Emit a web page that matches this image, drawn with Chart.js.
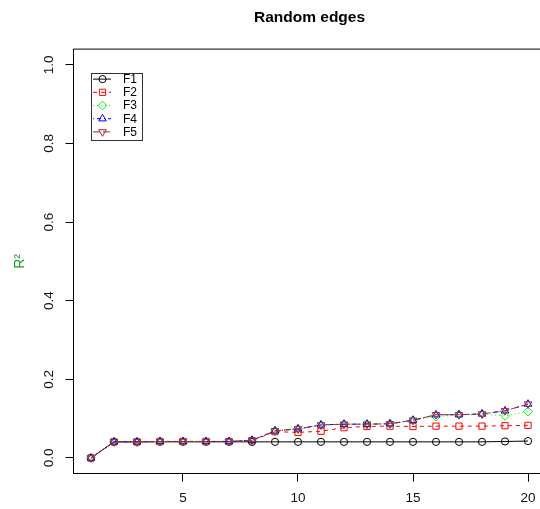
<!DOCTYPE html>
<html>
<head>
<meta charset="utf-8">
<script src="https://cdn.jsdelivr.net/npm/chart.js@4/dist/chart.umd.min.js"></script>
<style>
  html, body { margin: 0; padding: 0; background: #fff; overflow: hidden; }
  #wrap { position: absolute; left: 0; top: 0; width: 540px; height: 509px; overflow: hidden; }
  canvas { display: block; }
</style>
</head>
<body>
<div id="wrap"><canvas id="c" width="619" height="509"></canvas></div>
<script>
'use strict';

/* ── data ── */
const X_VALUES = [1,2,3,4,5,6,7,8,9,10,11,12,13,14,15,16,17,18,19,20];
const F1 = [0,0.041,0.041,0.041,0.041,0.041,0.041,0.041,0.041,0.041,0.041,0.041,0.041,0.041,0.041,0.041,0.041,0.041,0.042,0.043];
const F2 = [0,0.041,0.041,0.042,0.042,0.042,0.042,0.044,0.067,0.065,0.068,0.077,0.080,0.081,0.080,0.081,0.081,0.081,0.082,0.083];
const F3 = [0,0.041,0.041,0.042,0.042,0.042,0.042,0.045,0.069,0.074,0.084,0.086,0.086,0.087,0.096,0.105,0.110,0.112,0.107,0.118];
const F4 = [0,0.041,0.041,0.042,0.042,0.042,0.042,0.045,0.069,0.074,0.084,0.086,0.086,0.087,0.096,0.110,0.110,0.112,0.120,0.137];
const F5 = [0,0.041,0.041,0.042,0.042,0.042,0.042,0.045,0.069,0.074,0.084,0.086,0.086,0.087,0.096,0.110,0.110,0.112,0.120,0.137];
const SERIES_NAMES = ['F1','F2','F3','F4','F5'];
const X_TICKS = [5,10,15,20];
const Y_TICKS = [0,0.2,0.4,0.6,0.8,1.0];

/* ── styles ── */
const FONT = "'Liberation Sans', Arial, Helvetica, sans-serif";
const STYLES = [
  { color:'#000000', dash:[],        point:'circle',  radius:3.6, rot:0   },
  { color:'#ff0000', dash:[4,4],     point:'rect',    radius:4.4, rot:0   },
  { color:'#00ff00', dash:[1,3],     point:'rectRot', radius:4.4, rot:0   },
  { color:'#0000ff', dash:[1,3,4,3], point:'triangle',radius:4.4, rot:0   },
  { color:'#a52a2a', dash:[7,3],     point:'triangle',radius:4.4, rot:180 }
];
const SERIES = [F1,F2,F3,F4,F5];

const toPts = ys => X_VALUES.map((x,i)=>({x, y:ys[i]}));

const datasets = SERIES.map((ys,i)=>({
  label: SERIES_NAMES[i],
  data: toPts(ys),
  borderColor: STYLES[i].color,
  backgroundColor: 'rgba(0,0,0,0)',
  borderWidth: 1,
  borderDash: STYLES[i].dash,
  pointStyle: STYLES[i].point,
  pointRotation: STYLES[i].rot,
  pointRadius: STYLES[i].radius,
  pointBorderWidth: 1,
  pointBorderColor: STYLES[i].color,
  pointBackgroundColor: 'rgba(0,0,0,0)',
  tension: 0,
  order: SERIES.length - i
}));

/* ── title over the plot region, top box edge, R-like legend ── */
const boxLegendPlugin = {
  id: 'boxLegend',
  afterLayout(chart) {
    const t = chart.titleBlock, a = chart.chartArea;
    if (t) { t.left = a.left; t.right = a.right; }
  },
  afterDraw(chart) {
    const {ctx, chartArea:a} = chart;
    ctx.save();
    ctx.strokeStyle = '#000'; ctx.lineWidth = 1; ctx.setLineDash([]);
    ctx.beginPath();
    ctx.moveTo(a.left, a.top); ctx.lineTo(a.right, a.top);
    ctx.stroke();

    // legend
    const lx = a.left + 17.5, ly = a.top + 24, lw = 51, lh = 67;
    ctx.strokeStyle = '#333';
    ctx.strokeRect(Math.round(lx)+0.5, Math.round(ly)+0.5, lw, lh);
    ctx.font = '12px ' + FONT;
    ctx.textBaseline = 'middle'; ctx.textAlign = 'left';
    SERIES_NAMES.forEach((name,i)=>{
      const st = STYLES[i];
      const y = ly + 6 + i*13.2;
      ctx.strokeStyle = st.color; ctx.lineWidth = 1;
      ctx.setLineDash(st.dash);
      ctx.beginPath(); ctx.moveTo(lx+2, y); ctx.lineTo(lx+20, y); ctx.stroke();
      ctx.setLineDash([]);
      ctx.fillStyle = 'rgba(0,0,0,0)';
      Chart.helpers.drawPoint(ctx, {pointStyle: st.point, rotation: st.rot, radius: st.radius, borderWidth: 1}, lx+11.5, y);
      ctx.fillStyle = '#000';
      ctx.fillText(name, lx+32, y+0.5);
    });
    ctx.restore();
  }
};

new Chart(document.getElementById('c'), {
  type: 'line',
  data: { datasets },
  plugins: [boxLegendPlugin],
  options: {
    responsive: false,
    animation: false,
    devicePixelRatio: 1,
    layout: { padding: { left: 0, right: 73.5, top: 0, bottom: 0 } },
    plugins: {
      legend: { display: false },
      tooltip: { enabled: false },
      title: {
        display: true,
        text: 'Random edges',
        color: '#000',
        font: { family: FONT, size: 15.5, weight: 'bold' },
        padding: { top: 8, bottom: 22.5 }
      }
    },
    scales: {
      x: {
        type: 'linear',
        min: 0.24, max: 20.76,
        afterBuildTicks: s => { s.ticks = X_TICKS.map(v=>({value:v})); },
        afterFit: s => { s.height = 35.3; },
        grid: { display: true, drawOnChartArea: false, drawTicks: true, tickLength: 8, color: '#000', lineWidth: 1 },
        border: { display: true, color: '#000', width: 1 },
        ticks: { color: '#111', font: { family: FONT, size: 13.5 }, padding: 8, maxRotation: 0, callback: v => String(v) }
      },
      y: {
        type: 'linear',
        min: -0.04, max: 1.04,
        afterBuildTicks: s => { s.ticks = Y_TICKS.map(v=>({value:v})); },
        afterFit: s => { s.width = 73.5; },
        grid: { display: true, drawOnChartArea: false, drawTicks: true, tickLength: 8, color: '#000', lineWidth: 1 },
        border: { display: true, color: '#000', width: 1 },
        ticks: { color: '#111', font: { family: FONT, size: 13.5 }, padding: 7, minRotation: 90, maxRotation: 90, crossAlign: 'center', callback: v => Number(v).toFixed(1) },
        title: { display: true, text: 'R²', color: '#229922', font: { family: FONT, size: 14 }, padding: { top: 12, bottom: 0 } }
      }
    }
  }
});
</script>
</body>
</html>
